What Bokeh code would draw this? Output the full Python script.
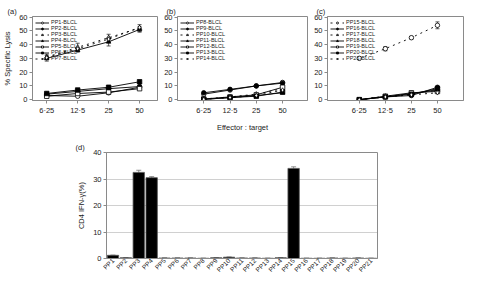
import math
from bokeh.plotting import figure
from bokeh.models import (Legend, LegendItem, FixedTicker, Whisker,
                          ColumnDataSource, Range1d, FactorRange, TeeHead)
from bokeh.layouts import column, row
from bokeh.embed import file_html
from bokeh.resources import INLINE

FONT = "Liberation Sans"

# ---------------- data ----------------
ratio_labels = ["6·25", "12·5", "25", "50"]
ratio_pos = [1, 2, 3, 4]

a_names = ["PP1-BLCL", "PP2-BLCL", "PP3-BLCL", "PP4-BLCL", "PP5-BLCL", "PP6-BLCL", "PP7-BLCL"]
a_PP1 = [3.0, 2.5, 5.0, 9.0]
a_PP2 = [4.0, 6.0, 8.0, 9.5]
a_PP3 = [31.0, 38.0, 45.0, 52.0]
a_PP4 = [30.0, 36.0, 42.0, 51.0]
a_PP5 = [2.5, 4.5, 5.5, 8.0]
a_PP6 = [4.5, 7.0, 9.0, 13.0]
a_PP7 = [30.5, 37.0, 44.0, 52.5]
a_err_PP3 = [2.0, 3.0, 2.5, 2.5]
a_err_PP4 = [2.0, 1.5, 3.0, 2.0]

b_names = ["PP8-BLCL", "PP9-BLCL", "PP10-BLCL", "PP11-BLCL", "PP12-BLCL", "PP13-BLCL", "PP14-BLCL"]
b_PP8 = [4.0, 7.0, 10.0, 12.5]
b_PP9 = [5.0, 7.5, 10.0, 12.0]
b_PP10 = [0.5, 2.0, 4.0, 8.0]
b_PP11 = [0.3, 1.5, 3.0, 5.0]
b_PP12 = [0.5, 2.0, 3.5, 9.0]
b_PP13 = [0.2, 1.5, 2.5, 5.5]
b_PP14 = [0.3, 1.5, 3.0, 7.0]

c_names = ["PP15-BLCL", "PP16-BLCL", "PP17-BLCL", "PP18-BLCL", "PP19-BLCL", "PP20-BLCL", "PP21-BLCL"]
c_PP15 = [30.0, 37.0, 45.0, 54.0]
c_PP16 = [0.0, 2.0, 3.0, 9.0]
c_PP17 = [0.0, 2.5, 4.0, 7.0]
c_PP18 = [0.0, 2.0, 4.5, 7.0]
c_PP19 = [0.0, 2.5, 5.0, 6.0]
c_PP20 = [0.0, 2.0, 4.0, 8.0]
c_PP21 = [0.0, 2.0, 3.5, 5.0]
c_err_PP15 = [0.8, 1.5, 1.0, 2.5]

lysis_ticks = [0, 10, 20, 30, 40, 50, 60]

d_cats = ["PP1", "PP2", "PP3", "PP4", "PP5", "PP6", "PP7", "PP8", "PP9", "PP10", "PP11",
          "PP12", "PP13", "PP14", "PP15", "PP16", "PP17", "PP18", "PP19", "PP20", "PP21"]
d_vals = [1.2, 0.3, 32.5, 30.5, 0.2, 0.2, 0.2, 0.1, 0.3, 0.5, 0.2,
          0.2, 0.1, 0.3, 34.0, 0.1, 0.1, 0.2, 0.1, 0.2, 0.1]
d_err = [0.1, 0.0, 0.8, 0.4, 0.0, 0.0, 0.0, 0.0, 0.0, 0.1, 0.0,
         0.0, 0.0, 0.0, 0.6, 0.0, 0.0, 0.0, 0.0, 0.0, 0.0]
d_ticks = [0, 10, 20, 30, 40]

# ---------------- styles ----------------
markers = ["circle", "circle", "triangle", "triangle", "square", "square", "diamond"]
fills = ["white", "black", "white", "black", "white", "black", "white"]
dashes = ["solid", "solid", "dotted", "solid", "solid", "solid", "dotted"]
GRAY = "#8a8a8a"
TXT = "#222222"


def style_axes(p):
    p.outline_line_color = GRAY
    p.outline_line_width = 1
    for ax in (p.xaxis[0], p.yaxis[0]):
        ax.axis_line_color = GRAY
        ax.major_tick_line_color = GRAY
        ax.minor_tick_line_color = None
        ax.major_tick_out = 3
        ax.major_tick_in = 0
        ax.major_label_text_font = FONT
        ax.major_label_text_font_size = "7.5px"
        ax.major_label_text_color = TXT
        ax.major_label_standoff = 2
        ax.axis_label_text_font = FONT
        ax.axis_label_text_font_size = "7.5px"
        ax.axis_label_text_font_style = "normal"
        ax.axis_label_text_color = TXT
    p.xgrid.grid_line_color = None
    p.ygrid.grid_line_color = None
    p.background_fill_color = "white"
    p.border_fill_color = "white"


def set_tag(p, tag, offset):
    p.title.text = tag
    p.title.align = "left"
    p.title.offset = offset
    p.title.text_font = FONT
    p.title.text_font_size = "7.5px"
    p.title.text_font_style = "normal"
    p.title.text_color = TXT
    p.title.standoff = 2


def lysis_panel(width, border_left, border_right, xr, names, series, tag, tag_offset,
                errs=None, xlabel=None, ylabel=None, dash_override=None):
    p = figure(width=width, height=138, output_backend="svg", toolbar_location=None,
               x_range=Range1d(*xr), y_range=Range1d(-0.6, 60.4),
               min_border_left=border_left, min_border_right=border_right,
               min_border_top=16, min_border_bottom=38)
    style_axes(p)
    set_tag(p, tag, tag_offset)
    p.xaxis.ticker = FixedTicker(ticks=ratio_pos)
    p.xaxis.major_label_overrides = {k: v for k, v in zip(ratio_pos, ratio_labels)}
    p.yaxis.ticker = FixedTicker(ticks=lysis_ticks)
    if xlabel:
        p.xaxis.axis_label = xlabel
        p.xaxis.axis_label_standoff = 5
    if ylabel:
        p.yaxis.axis_label = ylabel
        p.yaxis.axis_label_standoff = 4
    if errs:
        for idx, e in errs:
            ys = series[idx]
            src = ColumnDataSource(dict(x=ratio_pos,
                                        lo=[y - d for y, d in zip(ys, e)],
                                        hi=[y + d for y, d in zip(ys, e)]))
            w = Whisker(source=src, base="x", lower="lo", upper="hi", dimension="height",
                        line_color="#333333", line_width=0.8,
                        upper_head=TeeHead(size=4, line_color="#333333", line_width=0.8),
                        lower_head=TeeHead(size=4, line_color="#333333", line_width=0.8))
            p.add_layout(w)
    items = []
    ds = dash_override or dashes
    for i, (nm, ys) in enumerate(zip(names, series)):
        l = p.line(ratio_pos, ys, line_color="black", line_width=0.9, line_dash=ds[i])
        s = p.scatter(ratio_pos, ys, marker=markers[i], size=4.5, fill_color=fills[i],
                      line_color="black", line_width=0.8)
        items.append(LegendItem(label=nm, renderers=[l, s]))
    leg = Legend(items=items, location="top_left", background_fill_alpha=0,
                 border_line_color=None, label_text_font=FONT, label_text_font_size="5.5px",
                 label_text_color=TXT,
                 label_height=4, glyph_height=5, glyph_width=14, label_standoff=2,
                 spacing=-1, padding=0, margin=3)
    leg.label_text_line_height = 0.8
    p.add_layout(leg)
    return p


pa = lysis_panel(161, 29, 4, (0.54, 4.58), a_names,
                 [a_PP1, a_PP2, a_PP3, a_PP4, a_PP5, a_PP6, a_PP7], "(a)", -25,
                 errs=[(2, a_err_PP3), (3, a_err_PP4)], ylabel="% Specific Lysis")
pb = lysis_panel(150, 16, 4, (0.0, 4.95), b_names,
                 [b_PP8, b_PP9, b_PP10, b_PP11, b_PP12, b_PP13, b_PP14], "(b)", -11,
                 xlabel="Effector : target")
pc = lysis_panel(153, 16, 1, (-0.22, 5.0), c_names,
                 [c_PP15, c_PP16, c_PP17, c_PP18, c_PP19, c_PP20, c_PP21], "(c)", -11,
                 errs=[(0, c_err_PP15)],
                 dash_override=["dotted", "solid", "dotted", "solid", "solid", "solid", "dotted"])

# ---------------- panel d ----------------
pd_ = figure(width=464, height=141, output_backend="svg", toolbar_location=None,
             x_range=FactorRange(*d_cats, range_padding=0), y_range=Range1d(0, 40),
             min_border_left=106, min_border_right=87, min_border_top=14, min_border_bottom=21)
style_axes(pd_)
set_tag(pd_, "(d)", -31)
pd_.x_range.range_padding = 0
pd_.yaxis.ticker = FixedTicker(ticks=d_ticks)
pd_.ygrid.grid_line_color = "#888888"
pd_.ygrid.grid_line_dash = "1 1"
pd_.ygrid.grid_line_width = 0.8
pd_.xaxis.major_label_orientation = math.pi / 4
pd_.xaxis.major_label_text_font_size = "6.5px"
pd_.xaxis.major_tick_out = 0
pd_.xaxis.major_label_standoff = 1
pd_.yaxis.axis_label = "CD4 IFN-γ(%)"
pd_.yaxis.axis_label_standoff = 4
src = ColumnDataSource(dict(x=d_cats, top=d_vals,
                            lo=[v - e for v, e in zip(d_vals, d_err)],
                            hi=[v + e for v, e in zip(d_vals, d_err)]))
pd_.vbar(x="x", top="top", width=0.88, source=src, fill_color="black",
         line_color="#555555", line_width=0.8)
pd_.add_layout(Whisker(source=src, base="x", lower="lo", upper="hi", dimension="height",
                       line_color="#777777", line_width=0.8,
                       upper_head=TeeHead(size=5, line_color="#777777", line_width=0.8),
                       lower_head=TeeHead(size=5, line_color="#777777", line_width=0.8)))

layout = column(row(pa, pb, pc, spacing=0), pd_, spacing=0)
open("out.html", "w").write(file_html(layout, INLINE))
